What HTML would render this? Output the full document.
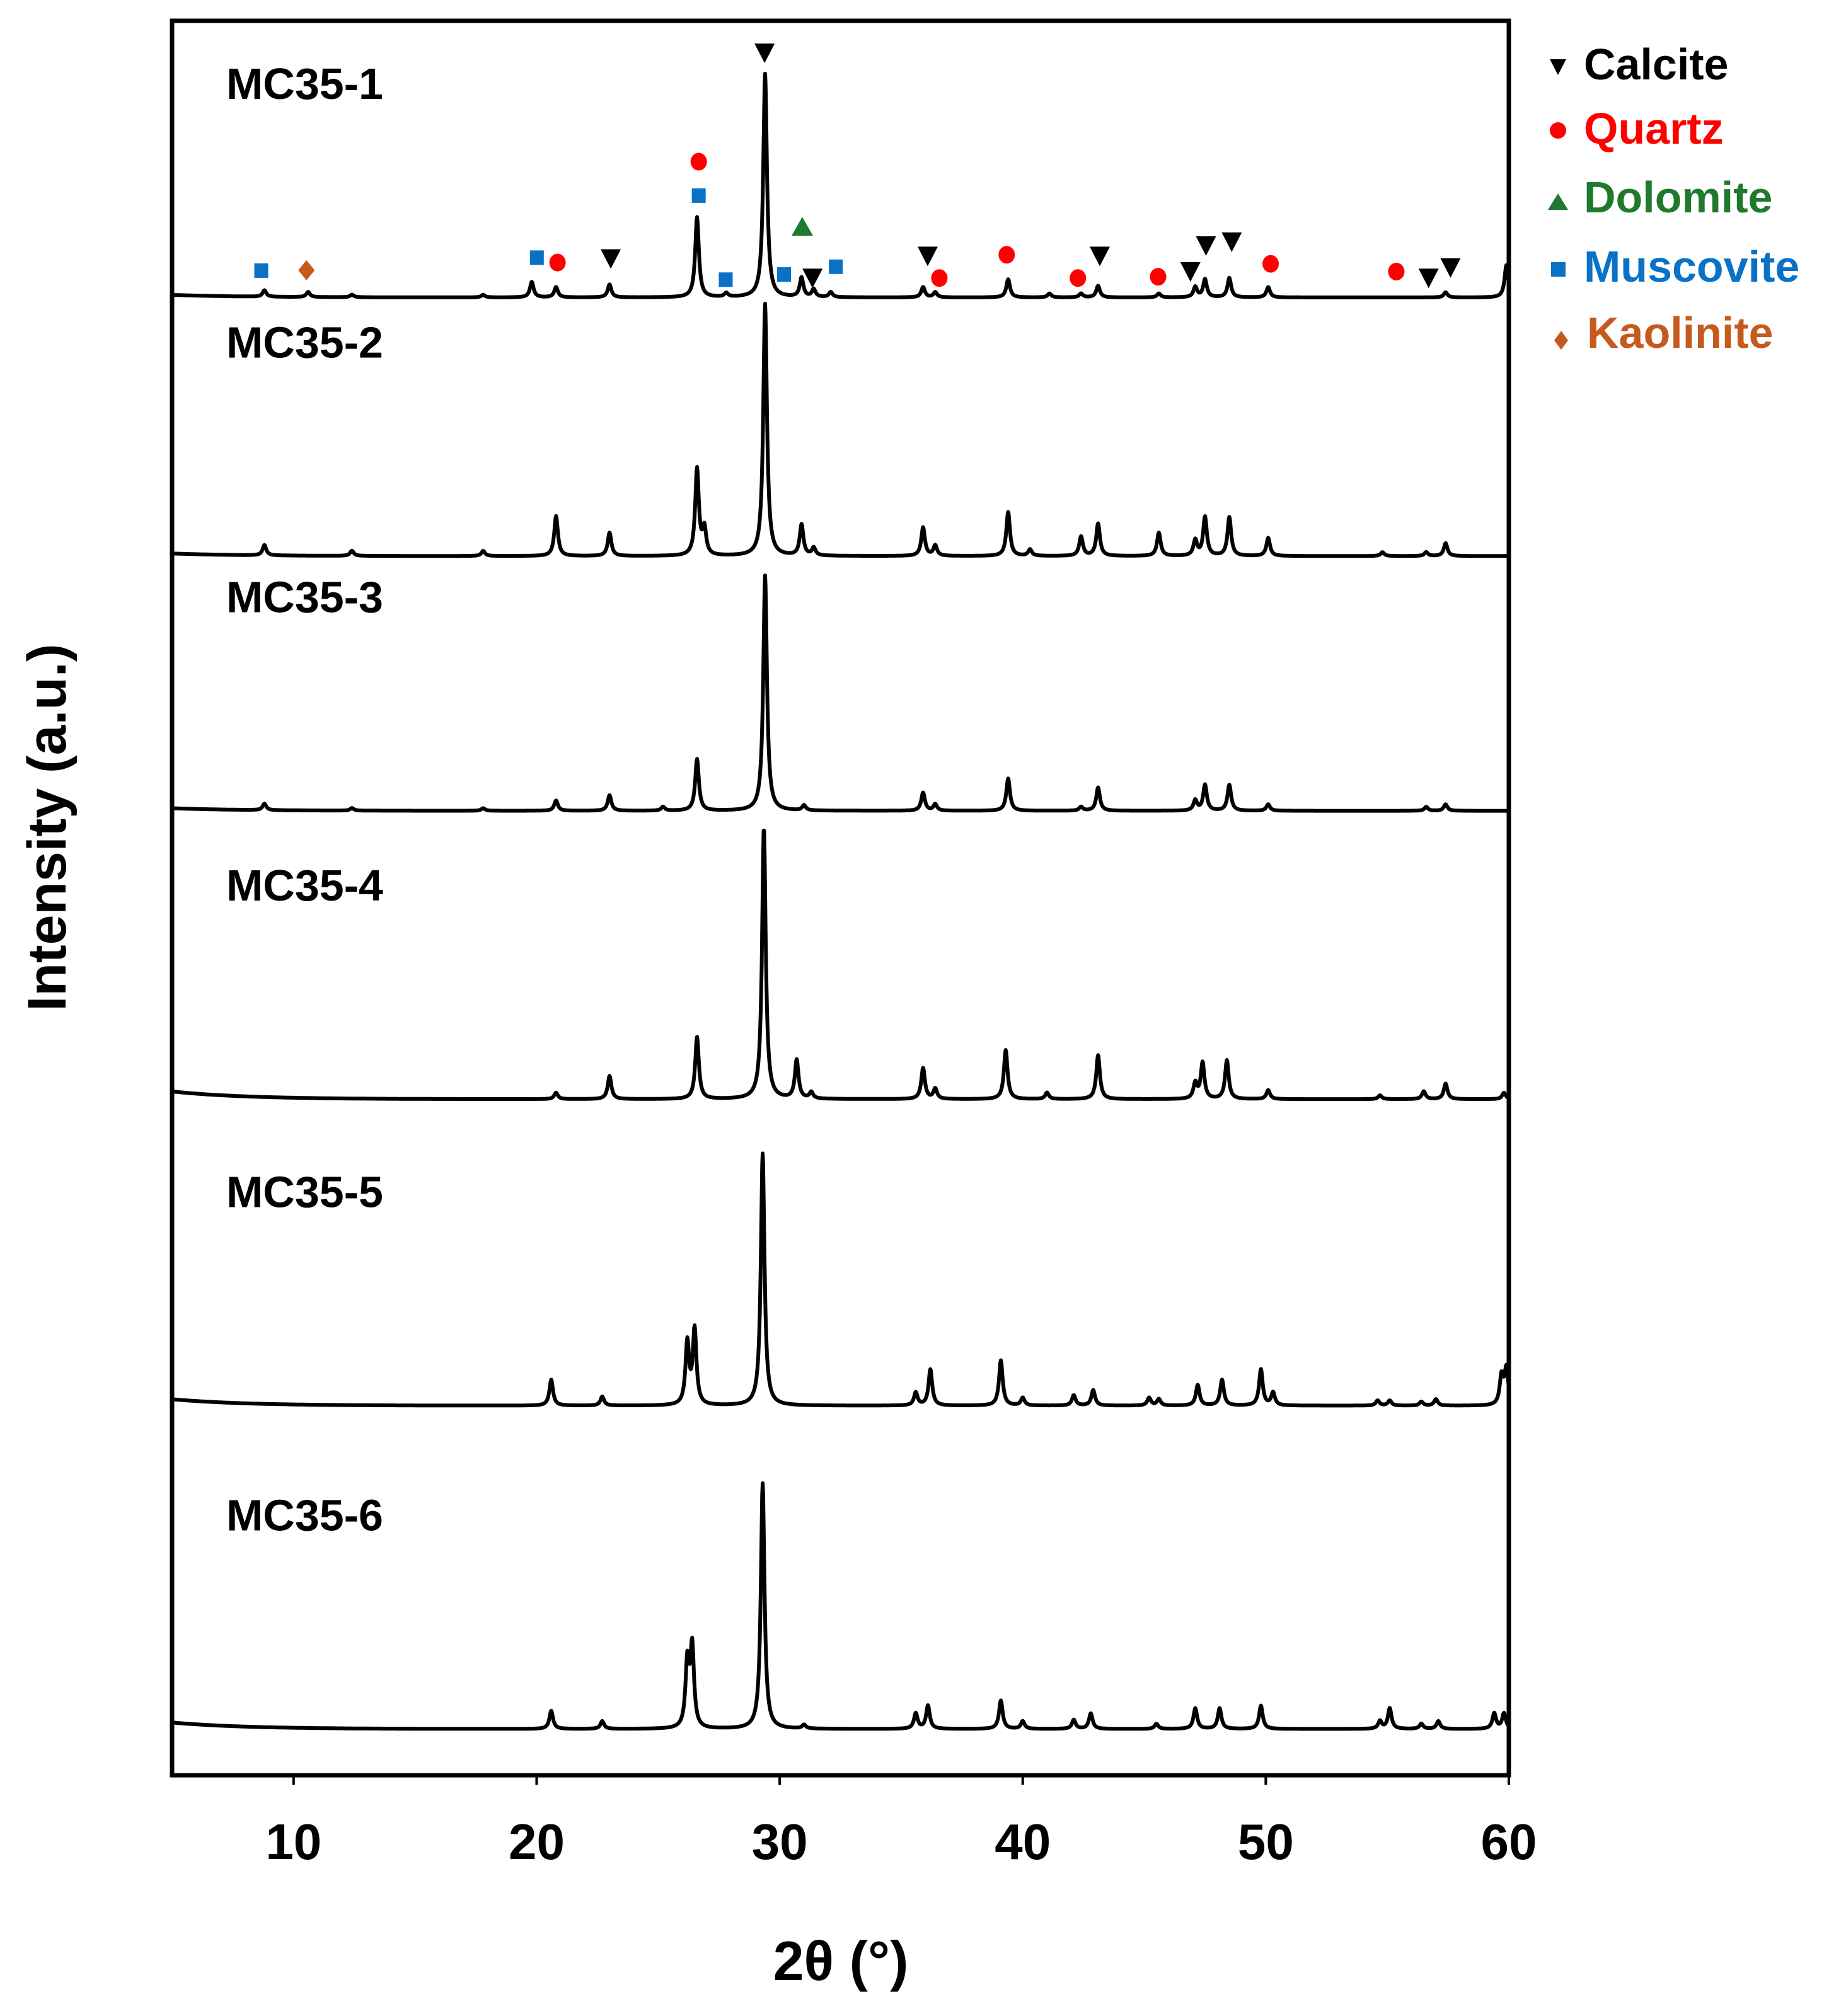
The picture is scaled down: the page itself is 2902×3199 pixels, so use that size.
<!DOCTYPE html>
<html><head><meta charset="utf-8">
<style>
html,body{margin:0;padding:0;background:#fff;}
svg{display:block;font-family:"Liberation Sans",Arial,sans-serif;font-weight:bold;}
</style></head>
<body>
<svg id="chart" width="2902" height="3199" viewBox="0 0 2902 3199" xmlns="http://www.w3.org/2000/svg">
<g id="traces"></g>
<g id="markers"></g>
<rect x="273" y="33" width="2121" height="2784" fill="none" stroke="#000" stroke-width="7"/>
<g id="xticks"></g>
<text x="1334" y="3142" font-size="88" text-anchor="middle">2θ (°)</text>
<text transform="translate(104,1313) rotate(-90)" font-size="86" text-anchor="middle">Intensity (a.u.)</text>
<g font-size="70">
  <g><polygon points="2459,94 2485,94 2472,119" fill="#000"/><text x="2513" y="126" fill="#000">Calcite</text></g>
  <g><circle cx="2472" cy="207" r="13" fill="#ff0000"/><text x="2513" y="228" fill="#ff0000">Quartz</text></g>
  <g><polygon points="2456,333 2488,333 2472,307" fill="#1f7a2d"/><text x="2513" y="337" fill="#1f7a2d">Dolomite</text></g>
  <g><rect x="2461" y="416" width="23" height="23" fill="#0a72c6"/><text x="2513" y="447" fill="#0a72c6">Muscovite</text></g>
  <g><polygon points="2477,525 2488,540 2477,555 2466,540" fill="#c55a1c"/><text x="2518" y="552" fill="#c55a1c">Kaolinite</text></g>
</g>
</svg>
<script>
// ---- data ----
const xTicks = [10, 20, 30, 40, 50, 60];
const sampleNames = ["MC35-1","MC35-2","MC35-3","MC35-4","MC35-5","MC35-6"];
const baseOffsets = [0, 200, 397, 620, 857, 1107];      // vertical stacking offsets (intensity units)
const bgLeft = [2, 2, 2, 6, 5, 5];                       // low-angle background rise
const pos1 = [8.8,10.6,12.4,17.8,19.8,20.8,23.0,26.6,27.8,29.4,30.9,31.4,32.1,35.9,36.4,39.4,41.1,42.4,43.1,45.6,47.1,47.5,48.5,50.1,57.4,59.9];
const int1 = [5,4,2,2,12,8,10,62,3,173,15,6,4,8,4,14,3,3,9,3,8,14,15,8,4,25];
const pos2 = [8.8,12.4,17.8,20.8,23.0,26.6,26.9,29.4,30.9,31.4,35.9,36.4,39.4,40.3,42.4,43.1,45.6,47.1,47.5,48.5,50.1,54.8,56.6,57.4];
const int2 = [8,4,4,31,18,67,20,195,24,6,22,8,34,5,15,25,18,12,30,30,14,3,3,10];
const pos3 = [8.8,12.4,17.8,20.8,23.0,25.2,26.6,29.4,31.0,35.9,36.4,39.4,42.4,43.1,47.1,47.5,48.5,50.1,56.6,57.4];
const int3 = [5,2,2,8,12,3,40,182,4,14,5,25,3,18,8,20,20,5,3,5];
const pos4 = [20.8,23.0,26.6,29.35,30.7,31.3,35.9,36.4,39.3,41.0,43.1,47.1,47.4,48.4,50.1,54.7,56.5,57.4,59.8];
const int4 = [5,18,48,210,30,5,24,8,38,5,34,12,28,30,7,3,6,12,5];
const pos5 = [20.6,22.7,26.2,26.5,29.3,35.6,36.2,39.1,40.0,42.1,42.9,45.2,45.6,47.2,48.2,49.8,50.3,54.6,55.1,56.4,57.0,59.7,59.9];
const int5 = [20,7,48,58,195,10,28,35,6,8,12,6,5,16,20,28,10,4,4,3,5,22,28];
const pos6 = [20.6,22.7,26.2,26.4,29.3,31.0,35.6,36.1,39.1,40.0,42.1,42.8,45.5,47.1,48.1,49.8,54.7,55.1,56.4,57.1,59.4,59.8];
const int6 = [14,6,50,62,190,3,12,18,22,6,7,12,4,16,16,18,6,16,4,6,12,12];
const peakPositions = [pos1,pos2,pos3,pos4,pos5,pos6];
const peakIntensities = [int1,int2,int3,int4,int5,int6];
// phase markers on MC35-1: 2theta and height above MC35-1 baseline (intensity units)
const calcitePos = [29.38,23.05,31.35,36.09,43.17,46.9,47.54,48.6,56.7,57.6];
const calciteH = [189,30,15,32,32,20,40,43,15,23];
const quartzPos = [26.67,20.86,36.57,39.34,42.27,45.57,50.2,55.37];
const quartzH = [105,27,15,33,15,16,26,20];
const dolomitePos = [30.93];
const dolomiteH = [55];
const muscovitePos = [8.67,26.67,20.01,27.78,30.18,32.31];
const muscoviteH = [21,79,31,14,18,24];
const kaolinitePos = [10.53];
const kaoliniteH = [21];

// ---- axes ----
const X0 = 273, X1 = 2394, XMIN = 5, XMAX = 60;
const BASE_Y = 472, K = 2.052;
function xScale(t){ return X0 + (t - XMIN) / (XMAX - XMIN) * (X1 - X0); }
function yScale(i, v){ return BASE_Y + baseOffsets[i] * K - v * K; }

const NS = "http://www.w3.org/2000/svg";
const gT = document.getElementById('traces');
const W = 0.09;
for (let i = 0; i < sampleNames.length; i++) {
  const P = peakPositions[i], A = peakIntensities[i];
  let d = "";
  for (let t = XMIN; t <= XMAX + 1e-9; t += 0.02) {
    let v = bgLeft[i] * Math.exp(-(t - XMIN) / 3);
    for (let j = 0; j < P.length; j++) {
      const u = (t - P[j]) / W;
      v += A[j] / (1 + u * u);
    }
    d += (d ? "L" : "M") + xScale(t).toFixed(1) + "," + yScale(i, v).toFixed(1);
  }
  const p = document.createElementNS(NS, 'path');
  p.setAttribute('d', d);
  p.setAttribute('fill', 'none');
  p.setAttribute('stroke', '#000');
  p.setAttribute('stroke-width', '6');
  p.setAttribute('stroke-linejoin', 'round');
  
  
  gT.appendChild(p);
  const tx = document.createElementNS(NS, 'text');
  tx.setAttribute('x', 359);
  tx.setAttribute('y', yScale(i, 0) - 315);
  tx.setAttribute('font-size', '70');
  tx.textContent = sampleNames[i];
  
  
  gT.appendChild(tx);
}

const gM = document.getElementById('markers');
function addMarker(kind, t, h) {
  const cx = xScale(t), cy = yScale(0, h);
  let el;
  if (kind === 'calcite') {
    el = document.createElementNS(NS, 'polygon');
    el.setAttribute('points', `${cx-16},${cy-15} ${cx+16},${cy-15} ${cx},${cy+16}`);
    el.setAttribute('fill', '#000');
  } else if (kind === 'quartz') {
    el = document.createElementNS(NS, 'ellipse');
    el.setAttribute('cx', cx); el.setAttribute('cy', cy);
    el.setAttribute('rx', 13); el.setAttribute('ry', 14);
    el.setAttribute('fill', '#ff0000');
  } else if (kind === 'dolomite') {
    el = document.createElementNS(NS, 'polygon');
    el.setAttribute('points', `${cx-17},${cy+15} ${cx+17},${cy+15} ${cx},${cy-15}`);
    el.setAttribute('fill', '#1f7a2d');
  } else if (kind === 'muscovite') {
    el = document.createElementNS(NS, 'rect');
    el.setAttribute('x', cx - 11); el.setAttribute('y', cy - 11);
    el.setAttribute('width', 22); el.setAttribute('height', 23);
    el.setAttribute('fill', '#0a72c6');
  } else {
    el = document.createElementNS(NS, 'polygon');
    el.setAttribute('points', `${cx},${cy-16} ${cx+13},${cy} ${cx},${cy+16} ${cx-13},${cy}`);
    el.setAttribute('fill', '#c55a1c');
  }
  
  
  gM.appendChild(el);
}
calcitePos.forEach((t, k) => addMarker('calcite', t, calciteH[k]));
quartzPos.forEach((t, k) => addMarker('quartz', t, quartzH[k]));
dolomitePos.forEach((t, k) => addMarker('dolomite', t, dolomiteH[k]));
muscovitePos.forEach((t, k) => addMarker('muscovite', t, muscoviteH[k]));
kaolinitePos.forEach((t, k) => addMarker('kaolinite', t, kaoliniteH[k]));

const gX = document.getElementById('xticks');
xTicks.forEach(v => {
  const x = xScale(v);
  const l = document.createElementNS(NS, 'line');
  l.setAttribute('x1', x); l.setAttribute('x2', x);
  l.setAttribute('y1', 2817); l.setAttribute('y2', 2832);
  l.setAttribute('stroke', '#000'); l.setAttribute('stroke-width', '4');
  
  
  gX.appendChild(l);
  const t = document.createElementNS(NS, 'text');
  t.setAttribute('x', x); t.setAttribute('y', 2950);
  t.setAttribute('font-size', '80'); t.setAttribute('text-anchor', 'middle');
  t.textContent = v;
  
  
  gX.appendChild(t);
});
</script>
</body></html>
